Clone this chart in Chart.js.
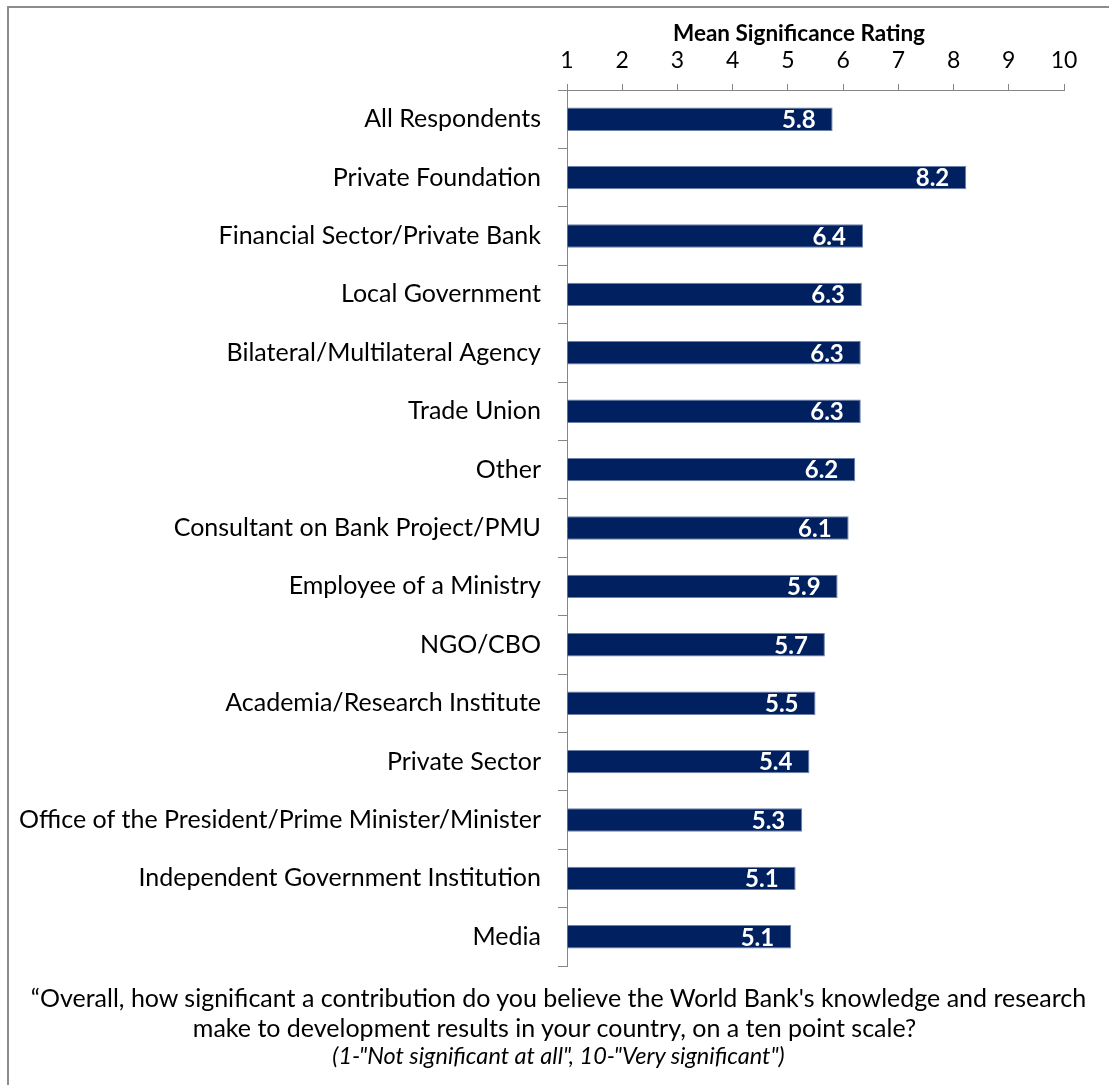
<!DOCTYPE html>
<html><head><meta charset="utf-8">
<script src="https://cdn.jsdelivr.net/npm/chart.js@4"></script>
<style>
html,body{margin:0;padding:0;background:#fff;}
#wrap{position:relative;width:1109px;height:1085px;overflow:hidden;background:#fff;}
#frame{position:absolute;left:7px;top:6px;width:1200px;height:1200px;border-left:2px solid #8c8c8c;border-top:2px solid #8c8c8c;}
canvas{position:absolute;left:0;top:0;}
.cap{position:absolute;left:0;width:1109px;text-align:center;font-family:Lato,sans-serif;color:#000;white-space:nowrap;}
#xtitle{position:absolute;left:599px;width:400px;top:19px;text-align:center;font-family:Lato,sans-serif;font-weight:bold;font-size:22.5px;line-height:28px;color:#000;white-space:nowrap;}
</style></head>
<body><div id="wrap"><div id="frame"></div><canvas id="c" width="1109" height="1085"></canvas>
<div id="xtitle"></div>
<div class="cap" style="top:983px;font-size:25px;line-height:28px;left:4px">“Overall, how significant a contribution do you believe the World Bank's knowledge and research</div>
<div class="cap" style="top:1013px;font-size:25px;line-height:28px">make to development results in your country, on a ten point scale?</div>
<div class="cap" style="top:1042px;font-size:23.5px;line-height:26px;font-style:italic;left:4px">(1-"Not significant at all", 10-"Very significant")</div>
</div>
<script>
const categories = [
  "All Respondents",
  "Private Foundation",
  "Financial Sector/Private Bank",
  "Local Government",
  "Bilateral/Multilateral Agency",
  "Trade Union",
  "Other",
  "Consultant on Bank Project/PMU",
  "Employee of a Ministry",
  "NGO/CBO",
  "Academia/Research Institute",
  "Private Sector",
  "Office of the President/Prime Minister/Minister",
  "Independent Government Institution",
  "Media"
];
const values = [5.81, 8.23, 6.36, 6.34, 6.32, 6.32, 6.22, 6.10, 5.90, 5.67, 5.50, 5.39, 5.26, 5.14, 5.06];
const axisTitle = "Mean Significance Rating";
const axisMin = 1;
const axisMax = 10;

document.getElementById('xtitle').textContent = axisTitle;

const valueLabels = {
  id: 'valueLabels',
  afterDatasetsDraw(chart) {
    const ctx = chart.ctx;
    const meta = chart.getDatasetMeta(0);
    ctx.save();
    ctx.font = 'bold 24px Lato';
    ctx.fillStyle = '#ffffff';
    ctx.textAlign = 'right';
    ctx.textBaseline = 'middle';
    meta.data.forEach((bar, i) => {
      ctx.fillText(values[i].toFixed(1), bar.x - 17, bar.y + 1);
    });
    ctx.restore();
  }
};

new Chart(document.getElementById('c'), {
  type: 'bar',
  data: {
    labels: categories,
    datasets: [{
      data: values,
      base: axisMin,
      backgroundColor: '#002060',
      borderColor: '#6d80a8',
      borderWidth: 1,
      barPercentage: 0.4,
      categoryPercentage: 1.0
    }]
  },
  options: {
    indexAxis: 'y',
    responsive: false,
    devicePixelRatio: 1,
    animation: false,
    layout: { padding: { left: 0, right: 45, top: 0, bottom: 119 } },
    plugins: { legend: { display: false }, tooltip: { enabled: false } },
    scales: {
      x: {
        type: 'linear',
        position: 'top',
        min: axisMin,
        max: axisMax,
        ticks: { stepSize: 1, color: '#000', font: { family: 'Lato', size: 23 }, padding: 10 },
        grid: { drawOnChartArea: false, drawTicks: true, tickLength: 6, color: '#868686' },
        border: { color: '#868686', width: 1 },
        title: { display: false },
        afterFit(s) { s.height = 90; }
      },
      y: {
        type: 'category',
        ticks: { color: '#000', font: { family: 'Lato', size: 25 }, padding: 17 },
        grid: { offset: true, drawOnChartArea: false, drawTicks: true, tickLength: 9, color: '#868686' },
        border: { color: '#868686', width: 1 },
        afterFit(s) { s.width = 567; }
      }
    }
  },
  plugins: [valueLabels]
});
</script>
</body></html>
